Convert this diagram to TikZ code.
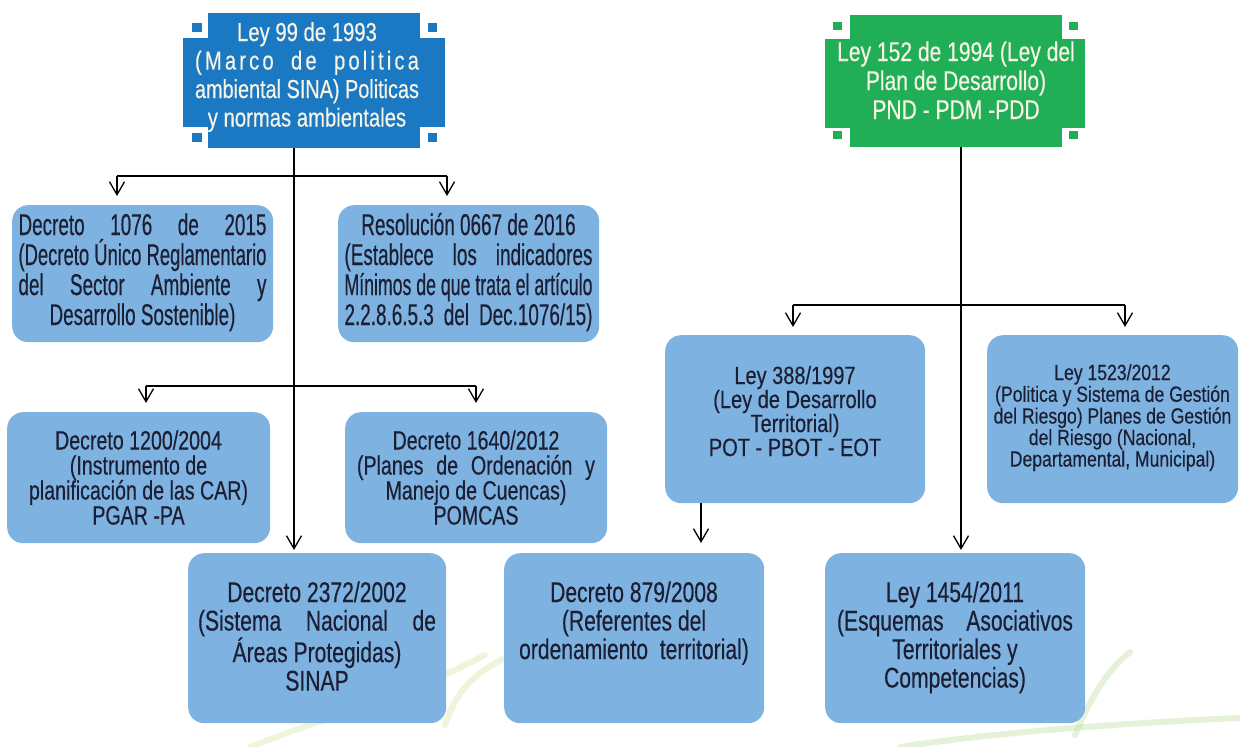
\documentclass[tikz,border=0pt]{standalone}
\usepackage{fontspec}
\usepackage{graphicx}
\usetikzlibrary{arrows.meta}
\newfontfamily\nrm{Liberation Sans}[FakeStretch=0.74,FakeBold=0.4]
\newfontfamily\sml{Liberation Sans}[FakeStretch=0.8,FakeBold=0.3]
\newfontfamily\hdrf{Liberation Sans}[FakeStretch=0.78,FakeBold=0.4]
\newfontfamily\cnd{Liberation Sans}[FakeStretch=0.63,FakeBold=0.4]
\definecolor{boxblue}{HTML}{7EB2E1}
\definecolor{hdrblue}{HTML}{1B78C2}
\definecolor{hdrgreen}{HTML}{20AE57}
\definecolor{hdrtext}{HTML}{F7F4E4}
\definecolor{boxtext}{HTML}{1C1F33}
\definecolor{swoosh}{HTML}{D6E7A6}
\definecolor{swooshg}{HTML}{BFDDA0}
\newcommand\btext[5]{\begin{minipage}[t]{#1}\centering#2\fontsize{#3}{#4}\selectfont #5\end{minipage}}
\newsavebox\linebox
\newcommand\jline[1]{\sbox\linebox{#1}\ifdim\wd\linebox>\linewidth\resizebox{\linewidth}{\height}{#1}\else\makebox[\linewidth][s]{#1}\fi}
\tikzset{
  lbox/.style={fill=boxblue, rounded corners=16pt, inner sep=0pt, anchor=north west},
  txt/.style={anchor=base, inner sep=0pt, text=boxtext},
  htxt/.style={anchor=base, inner sep=0pt, text=hdrtext},
  conn/.style={draw=black, line width=1.3pt},
  arr/.style={conn, -{Straight Barb[length=13pt,width=15pt,line width=1.3pt]}},
  sw/.style={line width=6pt, line cap=round, opacity=0.4}
}
\begin{document}
\begin{tikzpicture}[x=1pt,y=-1pt]
\useasboundingbox (0,0) rectangle (1240,747);
\fill[white] (0,0) rectangle (1240,747);
% faint background swooshes
\draw[sw, swoosh] (250,747) .. controls (340,712) and (420,690) .. (485,655);
\draw[sw, swoosh] (445,725) .. controls (455,695) and (470,675) .. (505,658);
\draw[sw, swooshg] (900,747) .. controls (1010,730) and (1150,722) .. (1240,718);
\draw[sw, swooshg] (1075,735) .. controls (1090,700) and (1105,672) .. (1130,652);

% blue header
\fill[hdrblue] (183,38) rectangle (445,127);
\fill[hdrblue] (192,23) rectangle (202,32);
\fill[hdrblue] (192,133) rectangle (202,142);
\fill[hdrblue] (428,23) rectangle (437,32);
\fill[hdrblue] (428,133) rectangle (437,142);
\node[fill=hdrblue, minimum width=212pt, minimum height=135pt, inner sep=0pt] (h1) at (314,80.5) {};
\node[htxt] (t99) at (307,41) {\btext{224pt}{\hdrf}{26pt}{28.5pt}{Ley 99 de 1993\\ \jline{\addfontfeature{LetterSpace=12}(Marco de politica}\\ \jline{ambiental SINA) Politicas}\\ y normas ambientales}};

% green header
\fill[hdrgreen] (825,39) rectangle (1085,128);
\fill[hdrgreen] (833,22) rectangle (842,30);
\fill[hdrgreen] (833,131) rectangle (842,139);
\fill[hdrgreen] (1069,22) rectangle (1078,30);
\fill[hdrgreen] (1069,131) rectangle (1078,139);
\node[fill=hdrgreen, minimum width=212pt, minimum height=132pt, inner sep=0pt] (h2) at (956,81) {};
\node[htxt] (t152) at (956,61) {\btext{250pt}{\hdrf}{27pt}{29pt}{Ley 152 de 1994 (Ley del\\ Plan de Desarrollo)\\ PND - PDM -PDD}};

% light blue boxes
\node[lbox, minimum width=261pt, minimum height=137pt] (d1076) at (12,205) {};
\node[lbox, minimum width=261pt, minimum height=137pt] (dres) at (338,205) {};
\node[lbox, minimum width=263pt, minimum height=131pt] (d1200) at (7,412) {};
\node[lbox, minimum width=262pt, minimum height=131pt] (d1640) at (345,412) {};
\node[lbox, minimum width=258pt, minimum height=170pt] (d2372) at (188,553) {};
\node[lbox, minimum width=260pt, minimum height=170pt] (d879) at (504,553) {};
\node[lbox, minimum width=260pt, minimum height=170pt] (l1454) at (825,553) {};
\node[lbox, minimum width=260pt, minimum height=168pt] (l388) at (665,335) {};
\node[lbox, minimum width=251pt, minimum height=168pt] (l1523) at (987,335) {};

% texts
\node[txt] (t1076) at (142.5,235) {\btext{248pt}{\cnd}{30pt}{30pt}{\jline{Decreto 1076 de 2015}\\ \jline{(Decreto Único Reglamentario}\\ \jline{del Sector Ambiente y}\\ Desarrollo Sostenible)}};
\node[txt] (tres) at (468.5,235) {\btext{248pt}{\cnd}{30pt}{30pt}{Resolución 0667 de 2016\\ \jline{(Establece los indicadores}\\ \jline{Mínimos de que trata el artículo}\\ \jline{2.2.8.6.5.3 del Dec.1076/15)}}};
\node[txt] (t1200) at (138.5,449.5) {\btext{250pt}{\nrm}{26.5pt}{25pt}{Decreto 1200/2004\\ (Instrumento de\\ planificación de las CAR)\\ PGAR -PA}};
\node[txt] (t1640) at (476,449.5) {\btext{238pt}{\nrm}{26.5pt}{25pt}{Decreto 1640/2012\\ \jline{(Planes de Ordenación y}\\ Manejo de Cuencas)\\ POMCAS}};
\node[txt] (t2372) at (317,602) {\btext{238pt}{\nrm}{28.5pt}{28.5pt}{Decreto 2372/2002\\ \jline{(Sistema Nacional de}\\ Áreas Protegidas)\\ SINAP}};
\node[txt] (t879) at (634,602) {\btext{240pt}{\nrm}{28.5pt}{28.5pt}{Decreto 879/2008\\ (Referentes del\\ ordenamiento\ \ territorial)}};
\node[txt] (t1454) at (955,602) {\btext{236pt}{\nrm}{28.5pt}{28.5pt}{Ley 1454/2011\\ \jline{(Esquemas Asociativos}\\ Territoriales y\\ Competencias)}};
\node[txt] (t388) at (795,384) {\btext{245pt}{\sml}{25pt}{24pt}{Ley 388/1997\\ (Ley de Desarrollo\\ Territorial)\\ POT - PBOT - EOT}};
\node[txt] (t1523) at (1112.5,380) {\btext{250pt}{\sml}{22pt}{20pt}{Ley 1523/2012\\ (Politica y Sistema de Gestión\\ del Riesgo) Planes de Gestión\\ del Riesgo (Nacional,\\ Departamental, Municipal)}};

% connector junctions
\coordinate (j1) at (294,176);
\coordinate (b1l) at (117,176);
\coordinate (b1r) at (447,176);
\coordinate (b2l) at (146,386);
\coordinate (b2r) at (476,386);
\coordinate (j2) at (961,305);
\coordinate (b3l) at (793,305);
\coordinate (b3r) at (1125,305);
\coordinate (j3) at (701,503);

% left tree
\draw[arr, shorten >=3pt] (j1 |- h1.south) -- (j1 |- d2372.north);
\draw[conn] (b1l) -- (b1r);
\draw[arr, shorten >=9pt] (b1l) -- (b1l |- d1076.north);
\draw[arr, shorten >=9pt] (b1r) -- (b1r |- dres.north);
\draw[conn] (b2l) -- (b2r);
\draw[arr, shorten >=9pt] (b2l) -- (b2l |- d1200.north);
\draw[arr, shorten >=9pt] (b2r) -- (b2r |- d1640.north);

% right tree
\draw[arr, shorten >=3pt] (j2 |- h2.south) -- (j2 |- l1454.north);
\draw[conn] (b3l) -- (b3r);
\draw[arr, shorten >=8pt] (b3l) -- (b3l |- l388.north);
\draw[arr, shorten >=8pt] (b3r) -- (b3r |- l1523.north);
\draw[arr, shorten >=10pt] (j3 |- l388.south) -- (j3 |- d879.north);
\end{tikzpicture}
\end{document}
